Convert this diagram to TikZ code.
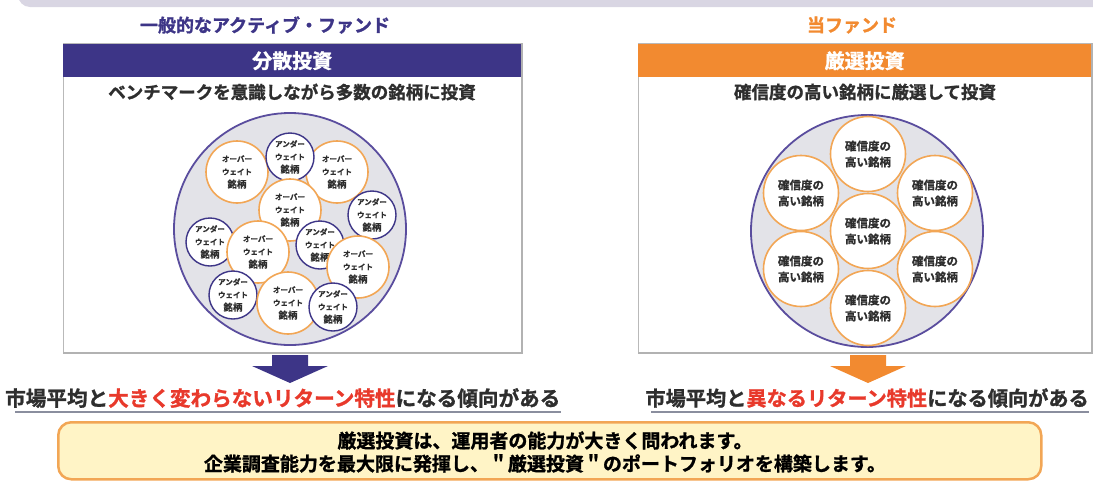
\documentclass[tikz,border=0pt]{standalone}
\usepackage{fontspec}
\setmainfont{Noto Sans CJK JP}[BoldFont={* Bold}, BoldFeatures={FakeBold=1.2}]
\definecolor{navy}{HTML}{3D3587}
\definecolor{forange}{HTML}{F28A30}
\definecolor{lorange}{HTML}{F2A655}
\definecolor{cfill}{HTML}{E3E3E8}
\definecolor{ring}{HTML}{5A4D9E}
\definecolor{fred}{HTML}{E8392B}
\definecolor{dtext}{HTML}{2E2E2E}
\definecolor{yfill}{HTML}{FFF4C6}
\definecolor{band}{HTML}{D9D6E3}
\definecolor{uline}{HTML}{8A8E9E}
\newcommand{\mgw}{\fontsize{7.5}{13}\selectfont}
\newcommand{\mgb}{\fontsize{9.5}{13}\selectfont}
\begin{document}
\begin{tikzpicture}[x=1pt,y=-1pt,
  every node/.style={inner sep=0pt, font=\bfseries, text=dtext},
  panel/.style={draw=gray!55, line width=1pt, fill=white, anchor=north west, minimum width=#1, minimum height=309pt},
  headbar/.style={fill=#1, anchor=north west, minimum height=33pt, text=white, font=\bfseries\fontsize{20}{22}\selectfont},
  subline/.style={font=\bfseries\fontsize{17.5}{19}\selectfont},
  bigring/.style={circle, draw=ring, line width=1.8pt, fill=cfill, minimum size=232pt},
  ow/.style={circle, draw=lorange, line width=1.6pt, fill=white, minimum size=62pt, align=center, font=\bfseries\mgw},
  uw/.style={circle, draw=navy, line width=1.4pt, fill=white, minimum size=48pt, align=center, font=\bfseries\mgw},
  hc/.style={circle, draw=lorange, line width=1.6pt, fill=white, minimum size=75pt, align=center, font=\bfseries\fontsize{11.5}{16}\selectfont},
  result/.style={font=\bfseries\fontsize{20.6}{23}\selectfont},
  ]
\useasboundingbox (0,0) rectangle (1093,483);
% top band
\fill[band, rounded corners=12pt] (18,-30) rectangle (1120,7);
% titles
\node[font=\bfseries\fontsize{18}{20}\selectfont, text=navy] (t1) at (265,25) {一般的なアクティブ・ファンド};
\node[font=\bfseries\fontsize{18}{20}\selectfont, text=forange] (t2) at (852,25) {当ファンド};
% panels
\node[panel=458pt] (boxL) at (63,43) {};
\node[panel=453pt] (boxR) at (638,43) {};
\draw[gray!60, line width=2.5pt] (boxL.south west) -- (boxL.south east) -- (boxL.north east);
\draw[gray!60, line width=2.5pt] (boxR.south west) -- (boxR.south east) -- (boxR.north east);
\node[headbar=navy, minimum width=458pt] (hL) at (63,44) {分散投資};
\node[headbar=forange, minimum width=453pt] (hR) at (638,44) {厳選投資};
\node[subline] (sL) at (292,92) {ベンチマークを意識しながら多数の銘柄に投資};
\node[subline] (sR) at (865,92) {確信度の高い銘柄に厳選して投資};
% left big circle
\node[bigring] (cL) at (290,229) {};
\node[ow] (o1) at (237,172) {オーバー\\ウェイト\\\mgb 銘柄};
\node[ow] (o2) at (337,172) {オーバー\\ウェイト\\\mgb 銘柄};
\node[uw] (u1) at (290,157) {アンダー\\ウェイト\\\mgb 銘柄};
\node[ow] (o3) at (290,210) {オーバー\\ウェイト\\\mgb 銘柄};
\node[uw] (u3) at (210,242) {アンダー\\ウェイト\\\mgb 銘柄};
\node[ow] (o4) at (258,252) {オーバー\\ウェイト\\\mgb 銘柄};
\node[uw] (u5) at (233,295) {アンダー\\ウェイト\\\mgb 銘柄};
\node[uw] (u2) at (372,215) {アンダー\\ウェイト\\\mgb 銘柄};
\node[uw] (u4) at (320,245) {アンダー\\ウェイト\\\mgb 銘柄};
\node[ow] (o5) at (358,267) {オーバー\\ウェイト\\\mgb 銘柄};
\node[ow] (o6) at (288,303) {オーバー\\ウェイト\\\mgb 銘柄};
\node[uw] (u6) at (333,307) {アンダー\\ウェイト\\\mgb 銘柄};
% right big circle
\node[bigring] (cR) at (867,231) {};
\node[hc] (h0) at (868,231) {確信度の\\高い銘柄};
\node[hc] (h1) at (868,154) {確信度の\\高い銘柄};
\node[hc] (h2) at (801,193) {確信度の\\高い銘柄};
\node[hc] (h3) at (935,193) {確信度の\\高い銘柄};
\node[hc] (h4) at (801,269) {確信度の\\高い銘柄};
\node[hc] (h5) at (935,269) {確信度の\\高い銘柄};
\node[hc] (h6) at (868,308) {確信度の\\高い銘柄};
% block arrows
\fill[navy] (272,355) -- (308,355) -- (308,366) -- (328,366) -- (290,383) -- (252,366) -- (272,366) -- cycle;
\fill[forange] (850,355) -- (886,355) -- (886,366) -- (906,366) -- (868,383) -- (830,366) -- (850,366) -- cycle;
% results
\node[result, anchor=west] (rL) at (5,398) {市場平均と\textcolor{fred}{大きく変わらないリターン特性}になる傾向がある};
\node[result, anchor=east, font=\bfseries\fontsize{20.2}{23}\selectfont] (rR) at (1089,398) {市場平均と\textcolor{fred}{異なるリターン特性}になる傾向がある};
\draw[uline, line width=1.5pt] ([xshift=10pt,yshift=-4pt]rL.south west) -- ([yshift=-4pt]rL.south east);
\draw[uline, line width=1.5pt] ([xshift=6pt,yshift=-4pt]rR.south west) -- ([yshift=-4pt]rR.south east);
% conclusion box
\node[draw=lorange, line width=2.5pt, fill=yfill, rounded corners=13pt, minimum width=983pt, minimum height=57pt, anchor=north west] (cb) at (57,421) {};
\node[align=center, font=\bfseries\fontsize{19}{23}\selectfont, text=black] (ct) at (545,452) {厳選投資は、運用者の能力が大きく問われます。\\企業調査能力を最大限に発揮し、＂厳選投資＂のポートフォリオを構築します。};
\end{tikzpicture}
\end{document}
